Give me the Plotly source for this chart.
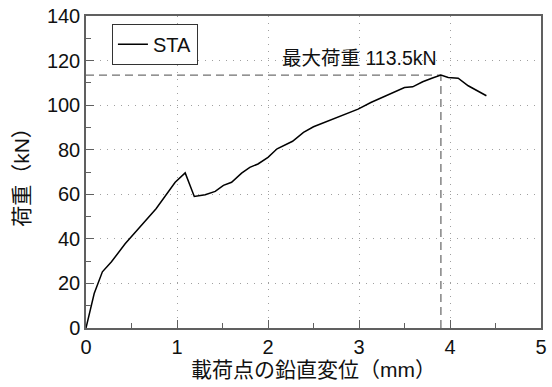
import plotly.graph_objects as go

# Load–displacement record for specimen STA
disp_mm = [0.0, 0.09, 0.18, 0.28, 0.43, 0.59, 0.77, 0.98, 1.09, 1.19, 1.31, 1.42,
           1.51, 1.60, 1.71, 1.80, 1.89, 2.00, 2.10, 2.27, 2.39, 2.50, 2.65, 2.83,
           2.99, 3.13, 3.28, 3.41, 3.50, 3.59, 3.70, 3.80, 3.90, 3.98, 4.09, 4.20, 4.40]
load_kN = [0.0, 15.5, 25.2, 29.7, 37.8, 45.3, 53.5, 65.4, 69.6, 59.0, 59.8, 61.3,
           64.0, 65.4, 69.5, 72.1, 73.6, 76.6, 80.4, 83.8, 87.8, 90.3, 92.7, 95.7,
           98.2, 101.2, 103.9, 106.0, 107.9, 108.2, 110.5, 112.1, 113.5, 112.4, 112.1, 108.7, 104.2]

max_load = 113.5
max_disp = 3.90

series_name = "STA"
x_title = "載荷点の鉛直変位（mm）"
y_title = "荷重（kN）"
max_label = f"最大荷重 {max_load}kN"

FONT = "Liberation Sans, Noto Sans CJK JP, sans-serif"
TXT = "#111111"

fig = go.Figure()

# dashed guides to the peak load
guide = dict(color="#707070", width=1.3, dash="8px,5px")
fig.add_trace(go.Scatter(x=[0, max_disp], y=[max_load, max_load], mode="lines",
                         line=guide, showlegend=False, hoverinfo="skip"))
fig.add_trace(go.Scatter(x=[max_disp, max_disp], y=[0, max_load], mode="lines",
                         line=guide, showlegend=False, hoverinfo="skip"))

fig.add_trace(go.Scatter(x=disp_mm, y=load_kN, mode="lines", name=series_name,
                         line=dict(color="black", width=1.5)))

fig.add_annotation(x=max_disp - 0.02, y=max_load + 2.0, xref="x", yref="y",
                   text=max_label, showarrow=False, xanchor="right", yanchor="bottom",
                   font=dict(family=FONT, size=19.5, color=TXT))

axis_common = dict(
    showline=True, linecolor="#606060", linewidth=1.5, mirror=True,
    ticks="inside", ticklen=8, tickwidth=1.2, tickcolor="#606060",
    showgrid=True, gridcolor="#a0a0a0", griddash="1px,6px", gridwidth=1,
    zeroline=False,
    tickfont=dict(family=FONT, size=20, color=TXT),
)

fig.update_xaxes(range=[0, 5], dtick=1,
                 minor=dict(dtick=0.5, ticks="inside", ticklen=5, tickcolor="#606060", showgrid=False),
                 title=dict(text=x_title, font=dict(family=FONT, size=21, color=TXT), standoff=4),
                 **axis_common)
fig.update_yaxes(range=[0, 140], dtick=20,
                 minor=dict(dtick=10, ticks="inside", ticklen=5, tickcolor="#606060", showgrid=False),
                 title=dict(text=y_title, font=dict(family=FONT, size=21, color=TXT), standoff=12),
                 **axis_common)

fig.update_layout(
    width=552, height=387,
    margin=dict(l=86, r=5, t=15, b=59),
    paper_bgcolor="white", plot_bgcolor="white",
    showlegend=True,
    legend=dict(x=0.057, y=0.975, xanchor="left", yanchor="top",
                bgcolor="white", bordercolor="#333333", borderwidth=1,
                font=dict(family=FONT, size=20, color=TXT),
                itemwidth=30, tracegroupgap=0),
)

fig.write_html("out.html")
